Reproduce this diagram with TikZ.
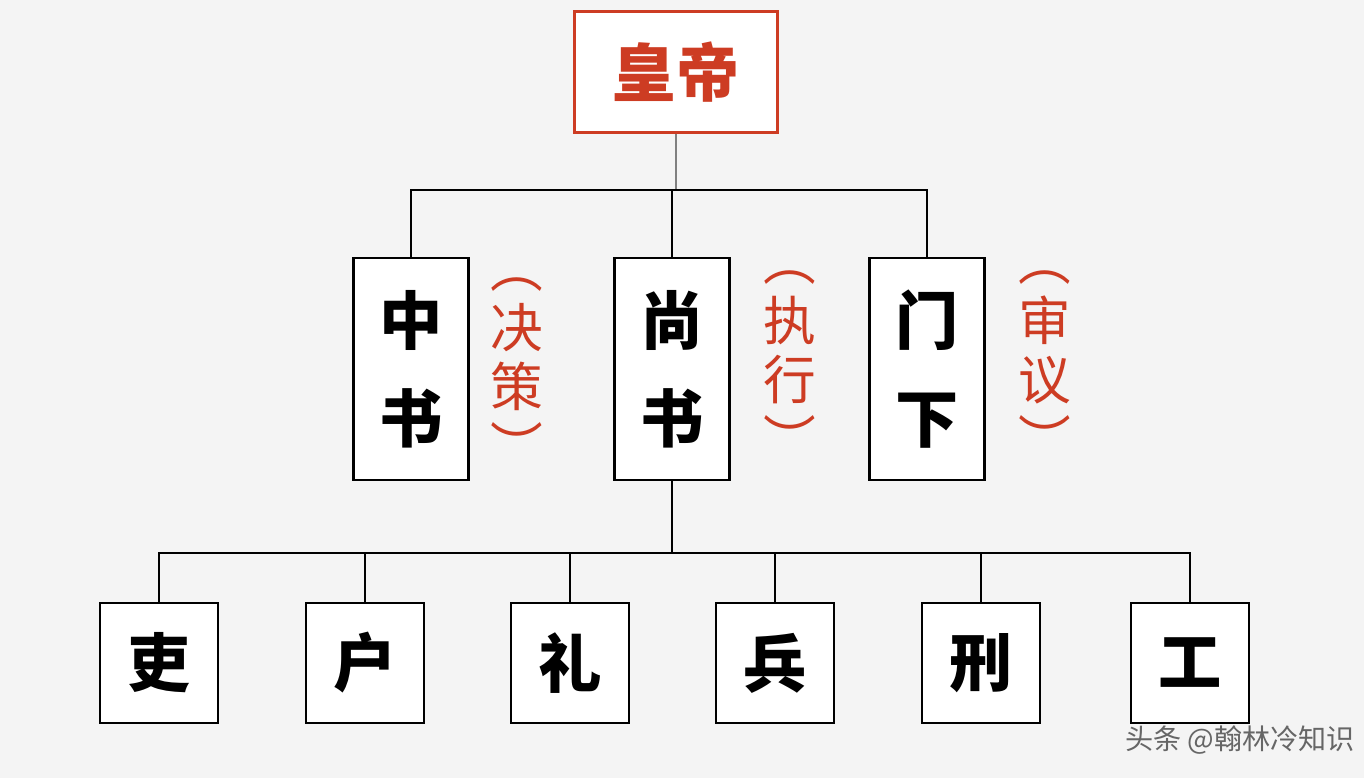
\documentclass[tikz,border=0pt]{standalone}
\usepackage{fontspec}
\newfontfamily\cjk{Noto Sans CJK SC}
\usetikzlibrary{positioning}
\tikzstyle{office}=[draw=black,line width=1.6pt,fill=white,minimum width=2.3cm,inner sep=0pt,font=\cjk\fontsize{36}{56}\selectfont\bfseries]
\tikzstyle{bureau}=[office,minimum width=2.36cm,minimum height=2.4cm]
\tikzstyle{duty}=[text=imperial,font=\cjk\fontsize{30}{34}\selectfont,align=center]
\tikzstyle{wire}=[line width=1.4pt,draw=black]
\definecolor{paper}{RGB}{244,244,244}
\definecolor{imperial}{RGB}{205,60,35}
\begin{document}
\begin{tikzpicture}[x=0.02cm,y=-0.02cm]
            \fill[paper] (0,0) rectangle (1364,778);
            \node (E) [office, draw=imperial, text=imperial, minimum width=4.06cm, minimum height=2.42cm] at (676,72) {皇帝};
            
            \node (Z) [office, minimum height=4.44cm, align=center] at (411,369) {中\\书};
            \node (S) [office, minimum height=4.44cm, align=center] at (672,369) {尚\\书};
            \node (M) [office, minimum height=4.44cm, align=center] at (927,369) {门\\下};
            \node (Zd) [duty] at (517,372) {︵\\决\\策\\︶};
            \node (Sd) [duty] at (790,365) {︵\\执\\行\\︶};
            \node (Md) [duty] at (1045,365) {︵\\审\\议\\︶};
            
            \node (B1) [bureau] at (159,663) {吏};
            \node (B2) [bureau] at (365,663) {户};
            \node (B3) [bureau] at (570,663) {礼};
            \node (B4) [bureau] at (775,663) {兵};
            \node (B5) [bureau] at (981,663) {刑};
            \node (B6) [bureau] at (1190,663) {工};
            
            \coordinate (top) at (676,190);
            \coordinate (low) at (672,553);
            \draw[line width=0.8pt,gray] (E.south) -- (top);
            \draw[wire] (Z.north) |- (top) -| (M.north);
            \draw[wire] (S.north) -- (S.north |- top);
            \draw[wire] (S.south) -- (low);
            \draw[wire] (B1.north) |- (low) -| (B6.north);
            \foreach \b in {B2,B3,B4,B5}
                \draw[wire] (\b.north) -- (\b.north |- low);
            
            \node (W) [text=gray!80!black, font=\cjk\fontsize{16}{18}\selectfont] at (1240,740) {头条 @翰林冷知识};
\end{tikzpicture}
\end{document}
